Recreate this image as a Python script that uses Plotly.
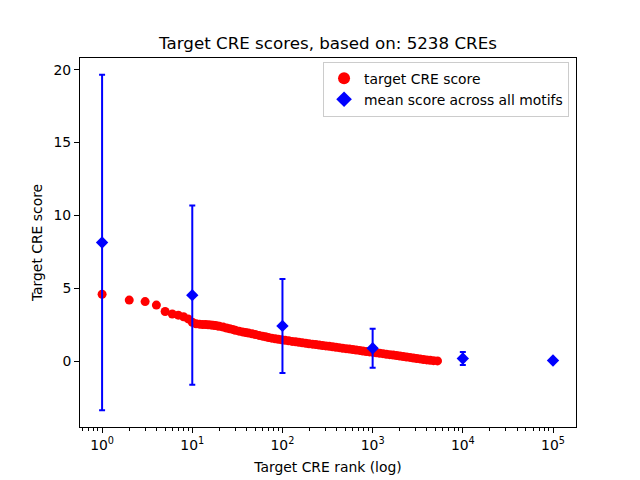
import plotly.graph_objects as go

# ---- data ----
cre_rank = [1, 2, 3, 4, 5, 6, 7, 8, 9,
            10, 11, 12, 13, 14, 15, 16, 17, 18, 19, 20, 22, 24, 26, 28, 30,
            33, 36, 39, 42, 46, 50, 55, 60, 65, 70, 76, 83, 90, 98,
            107, 117, 128, 140, 152, 166, 181, 197, 215, 234, 255, 278, 303,
            330, 360, 392, 427, 465, 507, 552, 602, 656, 715, 779, 849, 925,
            1008, 1098, 1197, 1304, 1421, 1549, 1688, 1839, 2004, 2184, 2380,
            2593, 2826, 3080, 3356, 3657, 3985, 4343, 4732, 5238]
cre_score = [4.60, 4.20, 4.10, 3.86, 3.42, 3.25, 3.17, 3.06, 2.91,
             2.68, 2.58, 2.55, 2.53, 2.52, 2.51, 2.50, 2.48, 2.46, 2.43, 2.40,
             2.35, 2.29, 2.24, 2.19, 2.13,
             2.07, 2.02, 1.98, 1.94, 1.89, 1.84, 1.78, 1.73, 1.68, 1.63, 1.59,
             1.55, 1.51, 1.48,
             1.44, 1.41, 1.37, 1.34, 1.31, 1.27, 1.24, 1.21, 1.18, 1.15, 1.12,
             1.09, 1.06, 1.03, 1.00, 0.97, 0.94, 0.90, 0.87, 0.84, 0.81, 0.78,
             0.75, 0.71, 0.68, 0.65,
             0.62, 0.59, 0.56, 0.53, 0.49, 0.46, 0.43, 0.40, 0.37, 0.33, 0.30,
             0.27, 0.23, 0.20, 0.17, 0.13, 0.10, 0.07, 0.05, 0.03]

motif_rank = [1, 10, 100, 1000, 10000, 100000]
motif_mean = [8.15, 4.54, 2.43, 0.90, 0.20, 0.06]
motif_err = [11.50, 6.14, 3.22, 1.33, 0.45, 0.08]

x_tick_vals = [1, 10, 100, 1000, 10000, 100000]
x_tick_text = ["10<sup>0</sup>", "10<sup>1</sup>", "10<sup>2</sup>",
               "10<sup>3</sup>", "10<sup>4</sup>", "10<sup>5</sup>"]
y_tick_vals = [0, 5, 10, 15, 20]

title_text = "Target CRE scores, based on: 5238 CREs"
x_label = "Target CRE rank (log)"
y_label = "Target CRE score"

minor_vals = [0.6, 0.7, 0.8, 0.9]
for d in [1, 10, 100, 1000, 10000]:
    minor_vals += [m * d for m in range(2, 10)]

FONT = "DejaVu Sans"

fig = go.Figure()
fig.add_trace(go.Scatter(
    x=cre_rank, y=cre_score, mode="markers", name="target CRE score",
    marker=dict(color="#ff0000", size=9, symbol="circle", line=dict(width=0)),
))
fig.add_trace(go.Scatter(
    x=motif_rank, y=motif_mean, mode="markers",
    name="mean score across all motifs",
    marker=dict(color="#0000ff", size=9.5, symbol="diamond", line=dict(width=0)),
    error_y=dict(type="data", array=motif_err, visible=True,
                 color="#0000ff", thickness=2, width=3),
))

fig.update_layout(
    width=640, height=480,
    margin=dict(l=80, r=64, t=58, b=53, pad=0),
    paper_bgcolor="white", plot_bgcolor="white",
    font=dict(family=FONT, size=14, color="black"),
    showlegend=True,
    title=dict(text=title_text, x=328 / 640, xanchor="center",
               y=1 - 43 / 480, yanchor="middle",
               font=dict(family=FONT, size=16.7, color="black")),
    legend=dict(x=0.986, xanchor="right", y=0.99, yanchor="top",
                bgcolor="rgba(255,255,255,0.8)", bordercolor="#cccccc",
                borderwidth=1, font=dict(family=FONT, size=13.9),
                tracegroupgap=0, itemsizing="constant"),
    xaxis=dict(type="log", range=[-0.245, 5.255], automargin=False,
               tickmode="array", tickvals=x_tick_vals, ticktext=x_tick_text,
               ticks="outside", ticklen=5, tickwidth=1, tickcolor="black",
               showline=True, linecolor="black", linewidth=1, mirror=True,
               showgrid=False, zeroline=False,
               minor=dict(tickmode="array", tickvals=minor_vals,
                          ticks="outside", ticklen=3, tickwidth=0.8,
                          tickcolor="black", showgrid=False),
               tickfont=dict(family=FONT, size=13.9),
               title=dict(text=x_label, standoff=10,
                          font=dict(family=FONT, size=13.9))),
    yaxis=dict(range=[-4.5, 20.8], tickmode="array", tickvals=y_tick_vals,
               automargin=False,
               ticks="outside", ticklen=5, tickwidth=1, tickcolor="black",
               showline=True, linecolor="black", linewidth=1, mirror=True,
               showgrid=False, zeroline=False,
               tickfont=dict(family=FONT, size=13.9),
               title=dict(text=y_label, standoff=7,
                          font=dict(family=FONT, size=13.9))),
)

fig.write_html("out.html", config={"displayModeBar": False},
               post_script="document.body.style.margin='0';")
